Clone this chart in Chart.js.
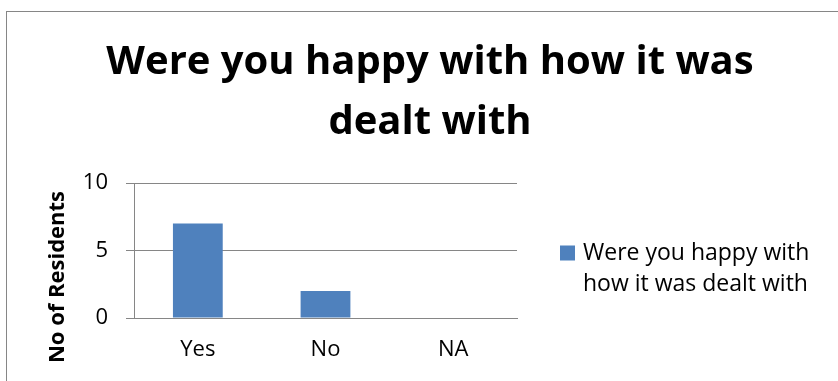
<!DOCTYPE html>
<html lang="en">
<head>
  <meta charset="UTF-8">
  <title>Were you happy with how it was dealt with</title>
  <script src="https://cdn.jsdelivr.net/npm/chart.js"></script>
  <style>
    html, body { margin: 0; padding: 0; background: #fff; overflow: hidden; }
    #frame { position: absolute; left: 6px; top: 11px; border-left: 1px solid #868686; border-top: 1px solid #868686; }
    canvas { display: block; }
  </style>
</head>
<body>
  <div id="frame"><canvas id="chart" width="846" height="370"></canvas></div>

  <script>
    const categories = ['Yes', 'No', 'NA'];
    const residents = [7, 2, 0];
    const yTicks = [0, 5, 10];
    const seriesName = 'Were you happy with how it was dealt with';
    const titleLines = ['Were you happy with how it was', 'dealt with'];
    const legendLines = ['Were you happy with', 'how it was dealt with'];
    const yTitle = 'No of Residents';

    const font = "'Open Sans', Lato, sans-serif";
    const gray = '#868686';

    // axis title and wrapped legend drawn next to the plot area
    const extras = {
      id: 'extras',
      afterDraw(chart) {
        const ctx = chart.ctx;
        const area = chart.chartArea;
        ctx.save();
        ctx.fillStyle = '#000';
        ctx.font = 'bold 22px ' + font;
        ctx.textAlign = 'center';
        ctx.textBaseline = 'middle';
        ctx.translate(area.left - 76, area.bottom - 41);
        ctx.rotate(-Math.PI / 2);
        ctx.fillText(yTitle, 0, 0);
        ctx.restore();

        ctx.save();
        const mid = (area.top + area.bottom) / 2;
        ctx.fillStyle = chart.data.datasets[0].backgroundColor;
        ctx.fillRect(area.right + 43, mid - 5, 15, 15);
        ctx.fillStyle = '#000';
        ctx.font = '23px ' + font;
        ctx.textBaseline = 'middle';
        legendLines.forEach((line, i) => {
          ctx.fillText(line, area.right + 66, mid + 3 + i * 31);
        });
        ctx.restore();
      }
    };

    new Chart(document.getElementById('chart'), {
      type: 'bar',
      data: {
        labels: categories,
        datasets: [{
          label: seriesName,
          data: residents,
          backgroundColor: '#4F81BD',
          categoryPercentage: 1,
          barPercentage: 0.39
        }]
      },
      options: {
        responsive: false,
        animation: false,
        layout: { padding: 0 },
        plugins: {
          legend: { display: false },
          tooltip: { enabled: false },
          title: {
            display: true,
            text: titleLines,
            color: '#000',
            font: { family: font, size: 40, weight: 'bold', lineHeight: 1.5 },
            padding: { top: 21, bottom: 30 }
          }
        },
        scales: {
          x: {
            grid: { display: false, drawTicks: false },
            border: { display: true, color: gray, width: 1 },
            ticks: { color: '#000', font: { family: font, size: 22 }, padding: 19 },
            afterFit(scale) { scale.height = 64; }
          },
          y: {
            min: 0,
            max: 10,
            afterBuildTicks(scale) { scale.ticks = yTicks.map(v => ({ value: v })); },
            grid: { color: gray, drawTicks: true, tickLength: 8, lineWidth: 1 },
            border: { display: true, color: gray, width: 1 },
            ticks: { color: '#000', font: { family: font, size: 22 }, padding: 18 },
            afterFit(scale) { scale.width = 127; }
          },
          // empty right-hand axis that keeps room for the legend
          side: {
            position: 'right',
            display: true,
            grid: { display: false, drawTicks: false },
            border: { display: false },
            ticks: { display: false },
            afterFit(scale) { scale.width = 336; }
          }
        }
      },
      plugins: [extras]
    });
  </script>
</body>
</html>
